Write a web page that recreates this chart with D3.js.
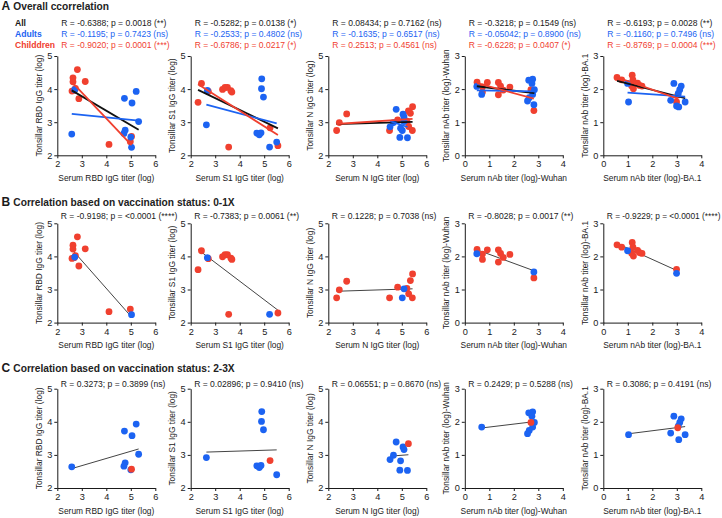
<!DOCTYPE html>
<html><head><meta charset="utf-8">
<script src="https://cdn.jsdelivr.net/npm/d3@7"></script>
<style>
html,body{margin:0;padding:0;background:#fff;}
svg text{font-family:"Liberation Sans",Arial,Helvetica,sans-serif;}
</style></head>
<body><svg id="chart" width="722" height="518"></svg>
<script>
// ---------------- DATA ----------------
const metricNames = ["RBD", "S1", "N", "Wuhan", "BA.1"];
const xTitles = ["Serum RBD IgG titer (log)", "Serum S1 IgG titer (log)", "Serum N IgG titer (log)",
                 "Serum nAb titer (log)-Wuhan", "Serum nAb titer (log)-BA.1"];
const yTitles = ["Tonsillar RBD IgG titer (log)", "Tonsillar S1 IgG titer (log)", "Tonsillar N IgG titer (log)",
                 "Tonsillar nAb titer (log)-Wuhan", "Tonsillar nAb titer (log)-BA.1"];
const igTicksX = [2, 3, 4, 5, 6];
const igTicksY = [2, 3, 4, 5];
const nabTicksX = [0, 1, 2, 3, 4];
const nabTicksY = [0, 1, 2, 3];

// vaccination status of each subject (same order as the value arrays)
const childVax = ["0-1X","0-1X","0-1X","0-1X","0-1X","0-1X","0-1X","0-1X","0-1X","0-1X","2-3X"];
const adultVax = ["0-1X","0-1X","2-3X","2-3X","2-3X","2-3X","2-3X","2-3X","2-3X","2-3X"];

// [serum, tonsillar]
const rbdChildren = [[2.82,4.59],[2.64,4.34],[2.64,4.22],[3.14,4.23],[2.60,3.94],[2.69,3.96],[2.74,4.02],[2.88,3.71],[4.11,2.33],[4.98,2.41],[5.03,2.57]];
const rbdAdults   = [[2.71,3.98],[5.03,2.24],[2.59,2.64],[4.74,3.72],[5.05,3.58],[5.22,3.93],[5.32,3.02],[4.77,2.76],[4.72,2.66],[5.00,2.55]];
const s1Children  = [[2.30,3.60],[2.44,4.17],[2.72,3.93],[3.30,3.99],[3.40,4.05],[3.50,4.05],[3.64,3.95],[3.68,3.91],[3.55,2.25],[5.56,2.29],[5.24,2.83]];
const s1Adults    = [[2.68,3.96],[5.22,2.25],[2.64,2.92],[4.90,4.31],[4.89,4.01],[4.97,3.76],[4.70,2.67],[4.80,2.62],[4.87,2.68],[5.51,2.40]];
const nChildren   = [[2.34,2.75],[2.45,2.99],[2.75,3.25],[4.50,2.75],[4.83,3.07],[5.21,3.03],[5.28,2.87],[5.35,3.27],[5.44,3.47],[5.43,2.75],[5.27,3.34]];
const nAdults     = [[5.09,3.02],[5.02,2.75],[4.77,3.39],[5.05,3.24],[5.09,3.16],[4.66,2.99],[4.52,2.86],[4.95,2.82],[4.92,2.54],[5.23,2.53]];
const wuhanChildren = [[0.50,2.21],[0.72,2.07],[0.72,1.91],[0.92,2.20],[1.37,2.20],[1.46,2.09],[1.37,1.83],[1.57,1.97],[1.84,2.06],[2.82,1.35],[2.70,1.98]];
const wuhanAdults   = [[0.49,2.08],[2.82,1.53],[0.69,1.84],[2.61,2.27],[2.77,2.30],[2.74,2.17],[2.84,1.98],[2.77,1.84],[2.63,1.74],[2.56,1.64]];
const ba1Children = [[0.56,2.35],[0.75,2.28],[1.18,2.42],[1.21,2.28],[1.16,2.09],[1.23,2.01],[1.40,2.18],[1.48,2.11],[1.58,2.09],[2.99,1.61],[3.04,1.82]];
const ba1Adults   = [[0.99,2.17],[2.99,1.49],[1.03,1.61],[2.88,2.17],[3.18,2.09],[3.12,1.98],[3.06,1.87],[2.75,1.66],[3.08,1.46],[3.34,1.61]];

// statistics labels
const statsAll      = ["R = -0.6388; p = 0.0018 (**)", "R = -0.5282; p = 0.0138 (*)", "R = 0.08434; p = 0.7162 (ns)", "R = -0.3218; p = 0.1549 (ns)", "R = -0.6193; p = 0.0028 (**)"];
const statsAdults   = ["R = -0.1195; p = 0.7423 (ns)", "R = -0.2533; p = 0.4802 (ns)", "R = -0.1635; p = 0.6517 (ns)", "R = -0.05042; p = 0.8900 (ns)", "R = -0.1160; p = 0.7496 (ns)"];
const statsChildren = ["R = -0.9020; p = 0.0001 (***)", "R = -0.6786; p = 0.0217 (*)", "R = 0.2513; p = 0.4561 (ns)", "R = -0.6228; p = 0.0407 (*)", "R = -0.8769; p = 0.0004 (***)"];
const statsVax01    = ["R = -0.9198; p = <0.0001 (****)", "R = -0.7383; p = 0.0061 (**)", "R = 0.1228; p = 0.7038 (ns)", "R = -0.8028; p = 0.0017 (**)", "R = -0.9229; p = <0.0001 (****)"];
const statsVax23    = ["R = 0.3273; p = 0.3899 (ns)", "R = 0.02896; p = 0.9410 (ns)", "R = 0.06551; p = 0.8670 (ns)", "R = 0.2429; p = 0.5288 (ns)", "R = 0.3086; p = 0.4191 (ns)"];

const sectionLetters = ["A", "B", "C"];
const sectionTitles = ["Overall ccorrelation", "Correlation based on vaccination status: 0-1X", "Correlation based on vaccination status: 2-3X"];
const legendLabels = ["All", "Adults", "Childdren"];

// ---------------- LAYOUT / STYLE ----------------
const childrenData = [rbdChildren, s1Children, nChildren, wuhanChildren, ba1Children];
const adultData = [rbdAdults, s1Adults, nAdults, wuhanAdults, ba1Adults];
const RED = "#f0402f", BLUE = "#1c63f2", INK = "#1a1a1a";
const panelLeft = [57.3, 190.7, 328.3, 464.8, 603.3];
const panelW = 98, panelH = 99.3;
const rowTop = [56, 223.3, 388.7];
const titleBase = [9.5, 205.5, 372];
const statBase = [[25.5, 36.8, 48], [219], [386.5]];
const R = 3.4;
const STAT_FS = 8.55;

const svg = d3.select("#chart");

function regression(pts) {
  const mx = d3.mean(pts, d => d[0]), my = d3.mean(pts, d => d[1]);
  let sxy = 0, sxx = 0;
  pts.forEach(d => { sxy += (d[0]-mx)*(d[1]-my); sxx += (d[0]-mx)*(d[0]-mx); });
  const b = sxy / sxx, a = my - b*mx;
  const x0 = d3.min(pts, d => d[0]), x1 = d3.max(pts, d => d[0]);
  return [[x0, a + b*x0], [x1, a + b*x1]];
}

function fitText(sel, left) {
  const node = sel.node();
  const w = node.getComputedTextLength();
  const maxW = 720.5 - left;
  if (w > maxW) sel.attr("textLength", maxW).attr("lengthAdjust", "spacingAndGlyphs");
}

// section headings
sectionLetters.forEach((L, i) => {
  svg.append("text").attr("x", 1.5).attr("y", titleBase[i]).attr("font-size", 12).attr("font-weight", "bold")
    .attr("fill", INK).text(L);
  svg.append("text").attr("x", 13.3).attr("y", titleBase[i]).attr("font-size", 10.2).attr("font-weight", "bold")
    .attr("fill", "#222").text(sectionTitles[i]);
});
// legend
const legendColors = [INK, BLUE, RED];
legendLabels.forEach((l, i) => {
  svg.append("text").attr("x", 15).attr("y", statBase[0][i]).attr("font-size", 8.6).attr("font-weight", "bold")
    .attr("fill", legendColors[i]).text(l);
});

for (let row = 0; row < 3; row++) {
  for (let m = 0; m < 5; m++) {
    const isNab = m >= 3;
    const x = d3.scaleLinear().domain(isNab ? [0, 4] : [2, 6]).range([0, panelW]);
    const y = d3.scaleLinear().domain(isNab ? [0, 3] : [2, 5]).range([panelH, 0]);
    const g = svg.append("g").attr("transform", `translate(${panelLeft[m]},${rowTop[row]})`);

    // axes
    const xa = g.append("g").attr("transform", `translate(0,${panelH})`)
      .call(d3.axisBottom(x).tickValues(isNab ? nabTicksX : igTicksX).tickSize(3).tickSizeOuter(0).tickPadding(2.5).tickFormat(d3.format("d")));
    const ya = g.append("g")
      .call(d3.axisLeft(y).tickValues(isNab ? nabTicksY : igTicksY).tickSize(3).tickSizeOuter(0).tickPadding(2).tickFormat(d3.format("d")));
    [xa, ya].forEach(a => {
      a.selectAll("path,line").attr("stroke", INK).attr("stroke-width", 1);
      a.selectAll("text").attr("font-size", 9.2).attr("fill", INK).attr("font-family", "Liberation Sans, Arial, sans-serif");
    });

    // axis titles
    g.append("text").attr("x", panelW/2).attr("y", panelH + 25.8).attr("text-anchor", "middle")
      .attr("font-size", 8.4).attr("fill", INK).text(xTitles[m]);
    g.append("text").attr("transform", `translate(-15.5,${panelH/2}) rotate(-90)`).attr("text-anchor", "middle")
      .attr("font-size", 8.4).attr("fill", INK).text(yTitles[m]);

    const kids = childrenData[m].map((d, i) => ({x: d[0], y: d[1], grp: "c", vax: childVax[i]}));
    const adults = adultData[m].map((d, i) => ({x: d[0], y: d[1], grp: "a", vax: adultVax[i]}));
    const line = d3.line().x(d => x(d[0])).y(d => y(d[1]));

    let pts;
    const lineG = g.append("g");
    if (row === 0) {
      pts = kids.concat(adults);
      const all = pts.map(d => [d.x, d.y]);
      lineG.append("path").attr("d", line(regression(all))).attr("stroke", "#111").attr("stroke-width", 1.8).attr("fill", "none");
      lineG.append("path").attr("d", line(regression(adults.map(d => [d.x, d.y])))).attr("stroke", BLUE).attr("stroke-width", 1.8).attr("fill", "none");
      lineG.append("path").attr("d", line(regression(kids.map(d => [d.x, d.y])))).attr("stroke", RED).attr("stroke-width", 1.8).attr("fill", "none");
      const stats = [statsAll[m], statsAdults[m], statsChildren[m]];
      stats.forEach((s, i) => {
        const t = g.append("text").attr("x", 4).attr("y", statBase[0][i] - rowTop[0]).attr("font-size", STAT_FS)
          .attr("fill", legendColors[i]).text(s);
        fitText(t, panelLeft[m] + 4);
      });
    } else {
      const v = row === 1 ? "0-1X" : "2-3X";
      pts = row === 1 ? kids.filter(d => d.vax === v).concat(adults.filter(d => d.vax === v))
                      : adults.filter(d => d.vax === v).concat(kids.filter(d => d.vax === v));
      lineG.append("path").attr("d", line(regression(pts.map(d => [d.x, d.y])))).attr("stroke", "#444").attr("stroke-width", 1).attr("fill", "none");
      const t = g.append("text").attr("x", 3.5).attr("y", statBase[row][0] - rowTop[row]).attr("font-size", STAT_FS)
        .attr("fill", INK).text(row === 1 ? statsVax01[m] : statsVax23[m]);
      fitText(t, panelLeft[m] + 3.5);
    }
    g.selectAll("circle.pt").data(pts).enter().append("circle").attr("class", "pt")
      .attr("cx", d => x(d.x)).attr("cy", d => y(d.y)).attr("r", R)
      .attr("fill", d => d.grp === "c" ? RED : BLUE);
    // in the overall row the fit lines sit on top of the dots
    if (row === 0) lineG.raise();
  }
}
</script></body></html>
